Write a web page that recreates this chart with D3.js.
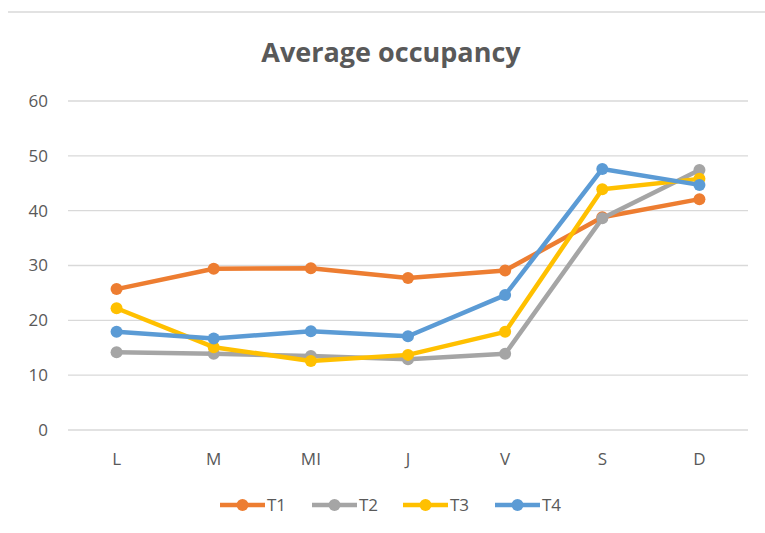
<!DOCTYPE html>
<html>
<head>
<meta charset="utf-8">
<script src="https://cdn.jsdelivr.net/npm/d3@7"></script>
<style>
  body { margin: 0; background: #fff; }
  svg { display: block; font-family: "Open Sans", "Noto Sans", sans-serif; }
</style>
</head>
<body>
<svg id="chart" width="765" height="533"></svg>
<script>
// data
const days = ["L", "M", "MI", "J", "V", "S", "D"];
const seriesNames = ["T1", "T2", "T3", "T4"];
const t1 = [25.7, 29.4, 29.5, 27.7, 29.1, 38.8, 42.1];
const t2 = [14.2, 13.9, 13.5, 12.9, 13.9, 38.6, 47.4];
const t3 = [22.2, 15.1, 12.6, 13.7, 17.9, 43.9, 45.8];
const t4 = [17.9, 16.7, 18.0, 17.1, 24.6, 47.6, 44.7];
const yTicks = [0, 10, 20, 30, 40, 50, 60];
const colors = ["#ED7D31", "#A5A5A5", "#FFC000", "#5B9BD5"];

const series = seriesNames.map((name, i) => ({
  name: name,
  values: [t1, t2, t3, t4][i],
  color: colors[i]
}));

const svg = d3.select("#chart");
const W = 765, H = 533;
const m = { left: 68, right: 17, top: 101, bottom: 103 };

// faint frame line across the top
svg.append("line")
  .attr("x1", 8).attr("x2", W).attr("y1", 12).attr("y2", 12)
  .attr("stroke", "#d9d9d9").attr("stroke-width", 1.5);

svg.append("text")
  .attr("x", 391).attr("y", 62)
  .attr("text-anchor", "middle")
  .attr("font-size", 27).attr("font-weight", "bold")
  .attr("fill", "#595959")
  .text("Average occupancy");

const x = d3.scaleBand().domain(days).range([m.left, W - m.right]);
const y = d3.scaleLinear().domain([0, 60]).range([H - m.bottom, m.top]);

// gridlines
svg.append("g").selectAll("line").data(yTicks).join("line")
  .attr("x1", m.left).attr("x2", W - m.right)
  .attr("y1", d => y(d)).attr("y2", d => y(d))
  .attr("stroke", "#d9d9d9").attr("stroke-width", 1.3);

// y axis labels
const yAxis = svg.append("g")
  .attr("transform", `translate(${m.left - 20},0)`)
  .call(d3.axisLeft(y).tickValues(yTicks).tickSize(0).tickPadding(0));
yAxis.select(".domain").remove();
yAxis.selectAll("text")
  .attr("font-size", 17).attr("fill", "#595959")
  .attr("font-family", "Open Sans, sans-serif");

// x axis labels
const xAxis = svg.append("g")
  .attr("transform", `translate(0,${y(0) + 23})`)
  .call(d3.axisBottom(x).tickSize(0).tickPadding(0));
xAxis.select(".domain").remove();
xAxis.selectAll("text")
  .attr("font-size", 17).attr("fill", "#595959")
  .attr("font-family", "Open Sans, sans-serif");

const cx = d => x(d) + x.bandwidth() / 2;
const line = d3.line()
  .x((v, i) => cx(days[i]))
  .y(v => y(v));

const g = svg.append("g").selectAll("g").data(series).join("g");
g.append("path")
  .attr("d", d => line(d.values))
  .attr("fill", "none")
  .attr("stroke", d => d.color)
  .attr("stroke-width", 4.5)
  .attr("stroke-linejoin", "round");
g.each(function(s) {
  d3.select(this).selectAll("circle").data(s.values).join("circle")
    .attr("cx", (v, i) => cx(days[i]))
    .attr("cy", v => y(v))
    .attr("r", 6)
    .attr("fill", s.color);
});

// legend
const legendX = [220, 312, 403, 495];
const lg = svg.append("g").selectAll("g").data(series).join("g")
  .attr("transform", (d, i) => `translate(${legendX[i]},505)`);
lg.append("line")
  .attr("x1", 0).attr("x2", 45)
  .attr("stroke", d => d.color).attr("stroke-width", 4.5);
lg.append("circle")
  .attr("cx", 22.5).attr("r", 6)
  .attr("fill", d => d.color);
lg.append("text")
  .attr("x", 47).attr("y", 6)
  .attr("font-size", 17).attr("fill", "#595959")
  .text(d => d.name);
</script>
</body>
</html>
